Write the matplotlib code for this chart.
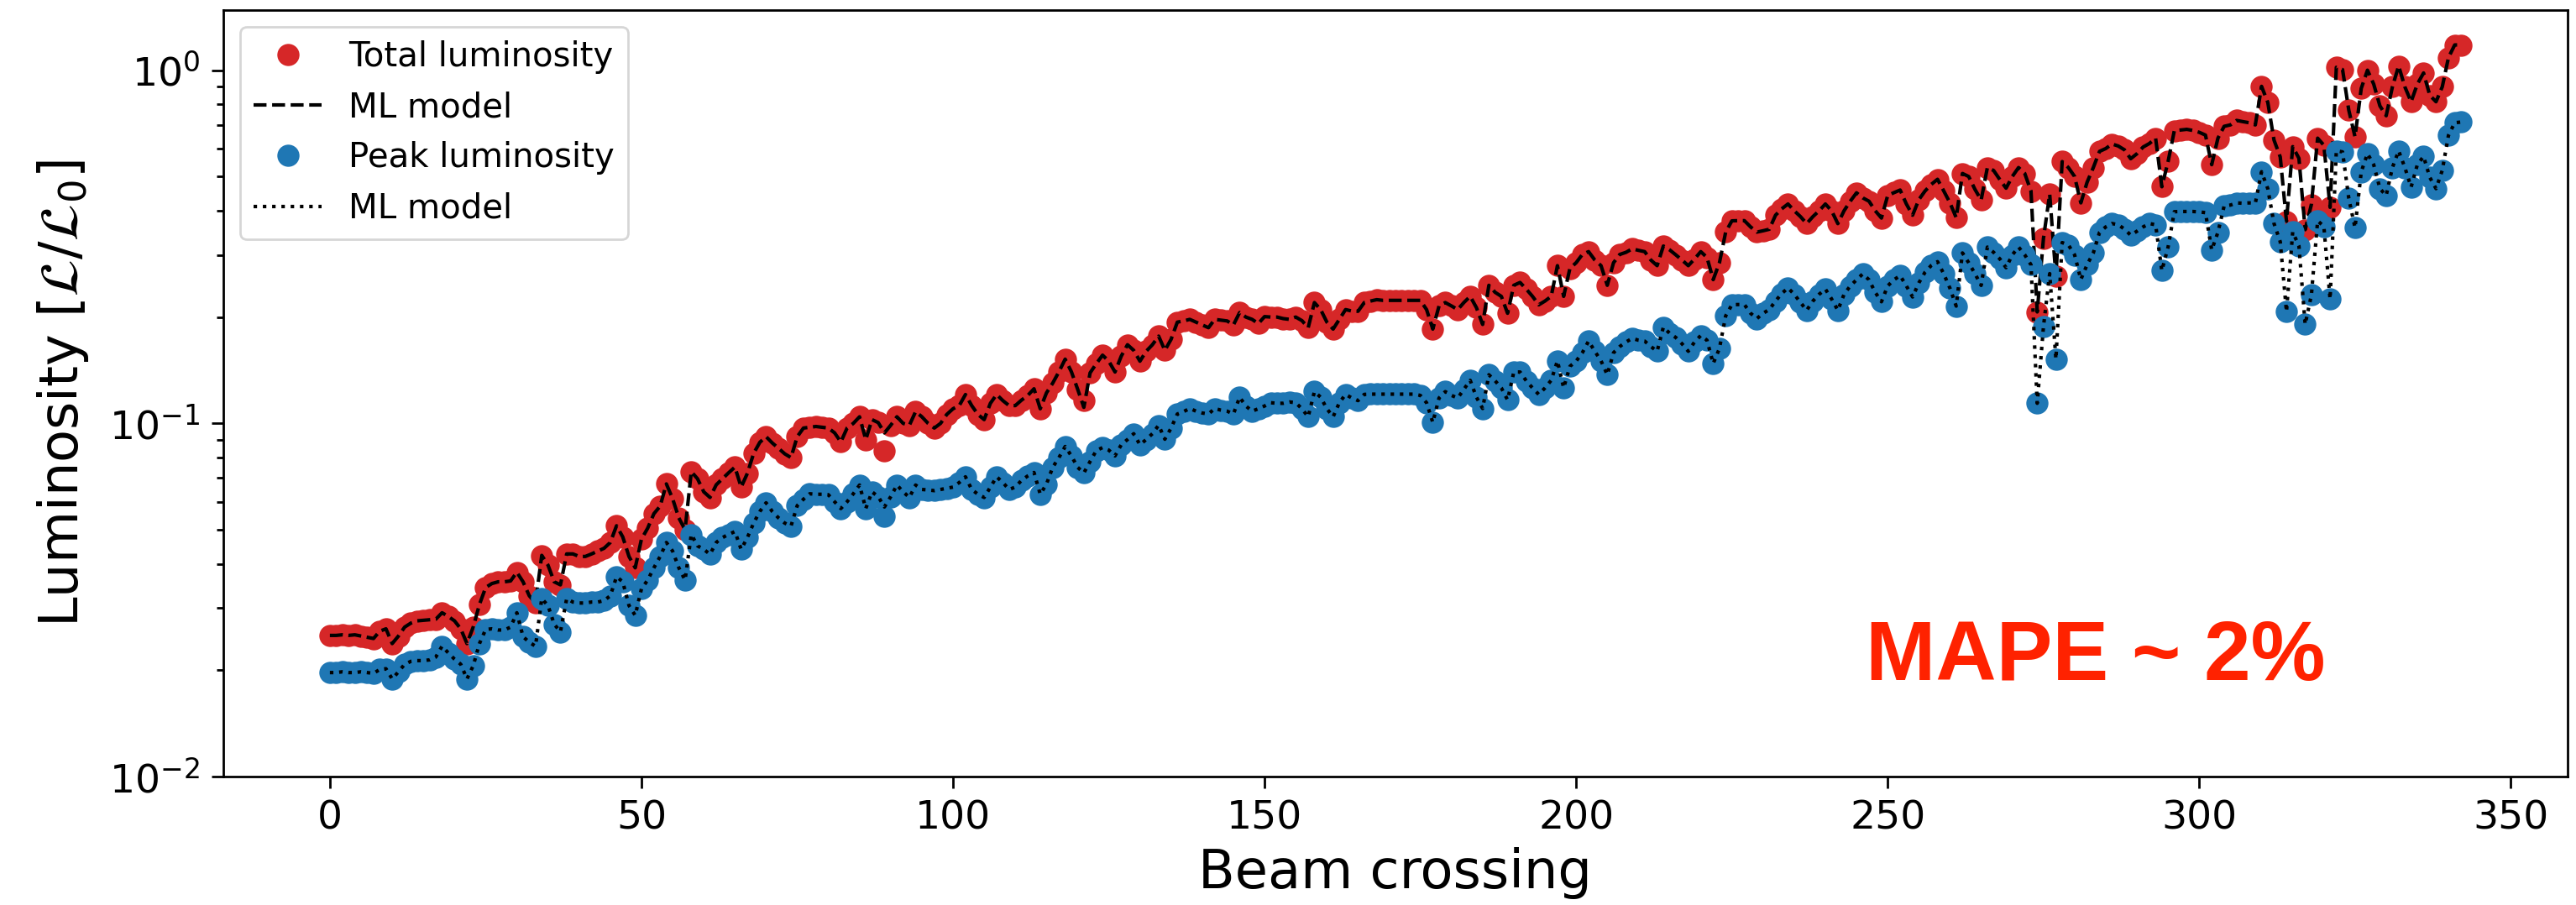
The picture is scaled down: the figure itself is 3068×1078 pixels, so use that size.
import numpy as np
import matplotlib
matplotlib.use("Agg")
import matplotlib.pyplot as plt

# total luminosity per beam crossing (L / L0)
total_lumi = [
    0.0251, 0.0251, 0.0252, 0.0251, 0.0252, 0.0250, 0.0248, 0.0246, 0.0258, 0.0262,
    0.0238, 0.0250, 0.0265, 0.0272, 0.0276, 0.0277, 0.0278, 0.0279, 0.0291, 0.0284,
    0.0276, 0.0262, 0.0238, 0.0265, 0.0307, 0.0343, 0.0352, 0.0356, 0.0356, 0.0358,
    0.0379, 0.0356, 0.0325, 0.0310, 0.0423, 0.0397, 0.0356, 0.0349, 0.0427, 0.0427,
    0.0420, 0.0420, 0.0427, 0.0435, 0.0443, 0.0460, 0.0513, 0.0477, 0.0420, 0.0390,
    0.0470, 0.0505, 0.0555, 0.0583, 0.0674, 0.0612, 0.0540, 0.0500, 0.0730, 0.0697,
    0.0640, 0.0617, 0.0670, 0.0697, 0.0725, 0.0752, 0.0660, 0.0722, 0.0822, 0.0884,
    0.0917, 0.0880, 0.0850, 0.0820, 0.0800, 0.0917, 0.0970, 0.0975, 0.0980, 0.0975,
    0.0970, 0.0940, 0.0886, 0.0970, 0.1000, 0.1044, 0.0900, 0.1025, 0.1005, 0.0838,
    0.0988, 0.1044, 0.1000, 0.0988, 0.1080, 0.1044, 0.1000, 0.0970, 0.1000, 0.1060,
    0.1100, 0.1123, 0.1207, 0.1123, 0.1060, 0.1025, 0.1140, 0.1207, 0.1160, 0.1123,
    0.1123, 0.1164, 0.1200, 0.1253, 0.1100, 0.1220, 0.1300, 0.1400, 0.1520, 0.1400,
    0.1250, 0.1160, 0.1390, 0.1476, 0.1560, 0.1500, 0.1398, 0.1550, 0.1670, 0.1610,
    0.1500, 0.1600, 0.1670, 0.1766, 0.1610, 0.1730, 0.1935, 0.1950, 0.1970, 0.1935,
    0.1900, 0.1866, 0.1970, 0.1960, 0.1950, 0.1900, 0.2060, 0.2000, 0.1970, 0.1917,
    0.2006, 0.2000, 0.2000, 0.1980, 0.1970, 0.2000, 0.1954, 0.1866, 0.2198, 0.2100,
    0.1935, 0.1849, 0.1970, 0.2100, 0.2080, 0.2077, 0.2198, 0.2220, 0.2240, 0.2230,
    0.2230, 0.2230, 0.2230, 0.2230, 0.2230, 0.2230, 0.2100, 0.1849, 0.2150, 0.2198,
    0.2150, 0.2100, 0.2200, 0.2289, 0.2127, 0.1906, 0.2460, 0.2350, 0.2289, 0.2050,
    0.2460, 0.2506, 0.2400, 0.2289, 0.2166, 0.2220, 0.2289, 0.2796, 0.2289, 0.2746,
    0.2850, 0.3008, 0.3064, 0.2900, 0.2796, 0.2460, 0.2849, 0.3008, 0.3050, 0.3120,
    0.3090, 0.3064, 0.2900, 0.2796, 0.3178, 0.3100, 0.3000, 0.2900, 0.2796, 0.2920,
    0.3064, 0.2950, 0.2553, 0.2849, 0.3480, 0.3745, 0.3750, 0.3750, 0.3600, 0.3480,
    0.3510, 0.3545, 0.3885, 0.4050, 0.4180, 0.4000, 0.3850, 0.3678, 0.3850, 0.4000,
    0.4180, 0.4000, 0.3678, 0.4000, 0.4256, 0.4496, 0.4350, 0.4256, 0.4000, 0.3814,
    0.4415, 0.4500, 0.4578, 0.4180, 0.3885, 0.4300, 0.4550, 0.4750, 0.4910, 0.4550,
    0.4210, 0.3822, 0.5100, 0.5000, 0.4600, 0.4290, 0.5300, 0.5200, 0.4900, 0.4633,
    0.5000, 0.5300, 0.5100, 0.4545, 0.2068, 0.3340, 0.4458, 0.2604, 0.5510, 0.5300,
    0.5000, 0.4210, 0.4815, 0.5300, 0.5890, 0.6000, 0.6180, 0.6100, 0.5950, 0.5615,
    0.5800, 0.6060, 0.6200, 0.6420, 0.4677, 0.5510, 0.6740, 0.6770, 0.6800, 0.6750,
    0.6670, 0.6550, 0.5400, 0.6420, 0.6935, 0.7000, 0.7207, 0.7150, 0.7100, 0.7000,
    0.9000, 0.8110, 0.6340, 0.5680, 0.3733, 0.6075, 0.5630, 0.3535, 0.4167, 0.6420,
    0.6130, 0.4090, 1.0190, 1.0040, 0.7706, 0.6480, 0.8880, 1.0000, 0.9130, 0.7920,
    0.7430, 0.8970, 1.0280, 0.8970, 0.8140, 0.9130, 0.9820, 0.8490, 0.8140, 0.8970,
    1.0860, 1.1790, 1.1790,
]

# peak luminosity per beam crossing
peak_lumi = [
    0.0197, 0.0197, 0.0198, 0.0197, 0.0197, 0.0198, 0.0197, 0.0196, 0.0201, 0.0202,
    0.0189, 0.0198, 0.0208, 0.0212, 0.0213, 0.0213, 0.0214, 0.0218, 0.0234, 0.0224,
    0.0215, 0.0208, 0.0189, 0.0206, 0.0238, 0.0261, 0.0262, 0.0260, 0.0260, 0.0265,
    0.0291, 0.0249, 0.0240, 0.0234, 0.0319, 0.0305, 0.0270, 0.0257, 0.0319, 0.0312,
    0.0310, 0.0310, 0.0312, 0.0312, 0.0315, 0.0325, 0.0368, 0.0356, 0.0305, 0.0286,
    0.0340, 0.0360, 0.0390, 0.0420, 0.0460, 0.0435, 0.0390, 0.0360, 0.0485, 0.0450,
    0.0440, 0.0426, 0.0460, 0.0475, 0.0485, 0.0494, 0.0440, 0.0475, 0.0522, 0.0563,
    0.0596, 0.0563, 0.0540, 0.0522, 0.0512, 0.0585, 0.0610, 0.0632, 0.0630, 0.0630,
    0.0628, 0.0600, 0.0574, 0.0600, 0.0632, 0.0669, 0.0574, 0.0640, 0.0620, 0.0546,
    0.0620, 0.0669, 0.0640, 0.0617, 0.0669, 0.0650, 0.0648, 0.0645, 0.0650, 0.0655,
    0.0660, 0.0680, 0.0706, 0.0650, 0.0630, 0.0617, 0.0660, 0.0706, 0.0680, 0.0650,
    0.0660, 0.0690, 0.0710, 0.0726, 0.0630, 0.0673, 0.0751, 0.0800, 0.0860, 0.0809,
    0.0751, 0.0724, 0.0780, 0.0838, 0.0854, 0.0840, 0.0809, 0.0870, 0.0900, 0.0935,
    0.0870, 0.0900, 0.0935, 0.0988, 0.0902, 0.0970, 0.1063, 0.1080, 0.1102, 0.1083,
    0.1070, 0.1063, 0.1102, 0.1090, 0.1083, 0.1063, 0.1186, 0.1120, 0.1083, 0.1100,
    0.1120, 0.1144, 0.1140, 0.1140, 0.1150, 0.1144, 0.1100, 0.1044, 0.1230, 0.1186,
    0.1100, 0.1044, 0.1144, 0.1208, 0.1180, 0.1160, 0.1208, 0.1210, 0.1210, 0.1210,
    0.1210, 0.1210, 0.1210, 0.1210, 0.1210, 0.1200, 0.1144, 0.1006, 0.1180, 0.1230,
    0.1200, 0.1180, 0.1250, 0.1324, 0.1186, 0.1102, 0.1373, 0.1320, 0.1260, 0.1165,
    0.1398, 0.1398, 0.1320, 0.1260, 0.1208, 0.1260, 0.1324, 0.1503, 0.1260, 0.1450,
    0.1500, 0.1585, 0.1710, 0.1600, 0.1503, 0.1373, 0.1585, 0.1650, 0.1700, 0.1740,
    0.1720, 0.1710, 0.1650, 0.1600, 0.1873, 0.1800, 0.1750, 0.1680, 0.1600, 0.1700,
    0.1773, 0.1720, 0.1477, 0.1630, 0.2015, 0.2168, 0.2170, 0.2170, 0.2050, 0.1980,
    0.2050, 0.2100, 0.2220, 0.2332, 0.2418, 0.2320, 0.2200, 0.2090, 0.2220, 0.2320,
    0.2400, 0.2250, 0.2090, 0.2320, 0.2450, 0.2550, 0.2650, 0.2550, 0.2350, 0.2210,
    0.2450, 0.2550, 0.2620, 0.2450, 0.2280, 0.2500, 0.2680, 0.2800, 0.2870, 0.2650,
    0.2412, 0.2148, 0.3038, 0.2850, 0.2655, 0.2458, 0.3156, 0.3050, 0.2922, 0.2760,
    0.3000, 0.3156, 0.3000, 0.2812, 0.1140, 0.1878, 0.2655, 0.1520, 0.3250, 0.3200,
    0.3000, 0.2555, 0.2812, 0.3038, 0.3475, 0.3600, 0.3680, 0.3650, 0.3550, 0.3410,
    0.3500, 0.3600, 0.3680, 0.3650, 0.2706, 0.3156, 0.3975, 0.3980, 0.3980, 0.3980,
    0.3970, 0.3950, 0.3097, 0.3475, 0.4130, 0.4150, 0.4210, 0.4200, 0.4210, 0.4200,
    0.5158, 0.4620, 0.3680, 0.3268, 0.2070, 0.3484, 0.3178, 0.1907, 0.2310, 0.3746,
    0.3613, 0.2247, 0.5913, 0.5870, 0.4336, 0.3580, 0.5158, 0.5805, 0.5400, 0.4620,
    0.4416, 0.5300, 0.5913, 0.5300, 0.4666, 0.5400, 0.5700, 0.4972, 0.4620, 0.5203,
    0.6540, 0.7100, 0.7130,
]

# ML model follows the data except where the line visibly leaves the markers
ml_total_fix = {89: 0.094, 121: 0.111}
ml_peak_fix = {89: 0.058}

crossing = np.arange(len(total_lumi))
ml_total = np.array(total_lumi)
ml_peak = np.array(peak_lumi)
for i, v in ml_total_fix.items():
    ml_total[i] = v
for i, v in ml_peak_fix.items():
    ml_peak[i] = v

fig = plt.figure(figsize=(15.34, 5.39), dpi=200)
ax = fig.add_axes([0.0867, 0.1419, 0.91, 0.847])

ax.plot(crossing, total_lumi, "o", color="tab:red", ms=8.5, label="Total luminosity")
ax.plot(crossing, ml_total, "k--", lw=1.5, label="ML model")
ax.plot(crossing, peak_lumi, "o", color="tab:blue", ms=8.5, label="Peak luminosity")
ax.plot(crossing, ml_peak, "k:", lw=1.5, label="ML model")

ax.set_yscale("log")
ax.set_ylim(1e-2, 1.48)
ax.set_xlabel("Beam crossing", fontsize=23, labelpad=4)
ax.set_ylabel(r"Luminosity [$\mathcal{L}/\mathcal{L}_0$]", fontsize=23, labelpad=8)
ax.tick_params(which="major", labelsize=17, length=5, width=1.0, pad=5)
ax.tick_params(which="minor", length=3, width=1.0)
for s in ax.spines.values():
    s.set_linewidth(1.0)

ax.legend(loc="upper left", fontsize=14.5)

ax.text(246.5, 0.0188, "MAPE ~ 2%", color="#ff2200", fontsize=36,
        fontweight="bold", family="Liberation Sans", ha="left", va="baseline")

fig.savefig("out.png", dpi=200)
